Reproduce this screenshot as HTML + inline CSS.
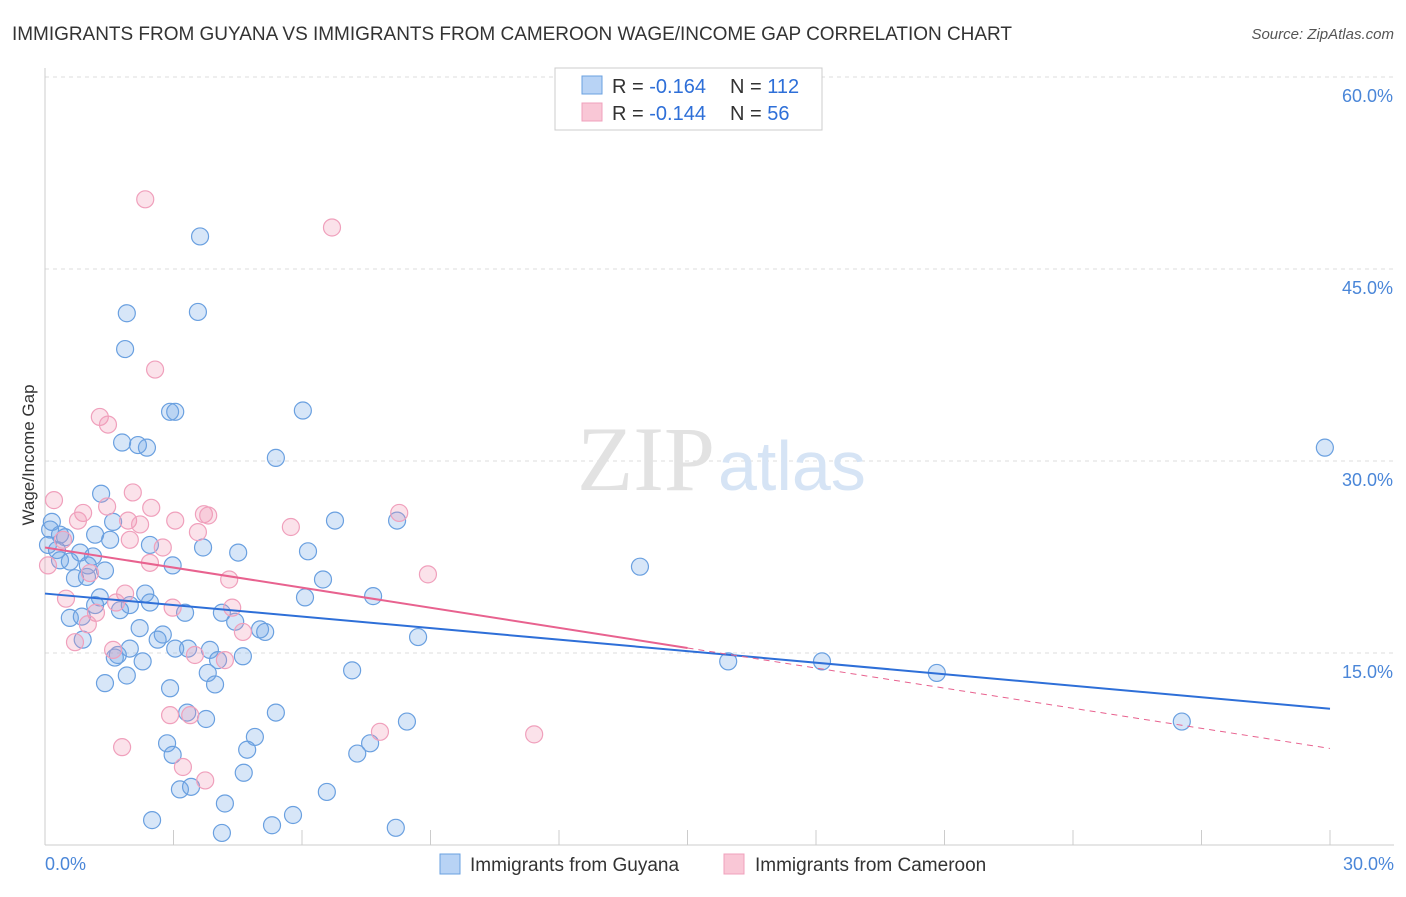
<!DOCTYPE html>
<html><head><meta charset="utf-8"><style>
body{margin:0;background:#fff;font-family:"Liberation Sans",sans-serif}
</style></head><body>
<svg width="1406" height="892" xmlns="http://www.w3.org/2000/svg" font-family="Liberation Sans, sans-serif">
<text x="12" y="40" font-size="19" fill="#333" textLength="1000">IMMIGRANTS FROM GUYANA VS IMMIGRANTS FROM CAMEROON WAGE/INCOME GAP CORRELATION CHART</text>
<text x="1394" y="39" font-size="15" fill="#555" font-style="italic" text-anchor="end">Source: ZipAtlas.com</text>
<g id="grid"></g>
<g id="axes"></g>
<text x="715" y="490" font-size="92" fill="#e2e2e2" text-anchor="end" font-family="Liberation Serif, serif">ZIP</text>
<text x="718" y="490" font-size="70" fill="#d6e4f5">atlas</text>
<text x="34" y="455" font-size="17" fill="#333" text-anchor="middle" transform="rotate(-90 34 455)">Wage/Income Gap</text>
<g id="pts"></g>
<g id="lines"></g>
<g>
<rect x="555" y="68" width="267" height="62" fill="#fff" stroke="#ccc"/>
<rect x="582" y="76" width="20" height="18" fill="#b8d3f5" stroke="#6aa0e0"/>
<rect x="582" y="103" width="20" height="18" fill="#f9c7d6" stroke="#f0a0bc"/>
<text x="612" y="93" font-size="20" fill="#333">R = <tspan fill="#2e6fd8">-0.164</tspan></text>
<text x="730" y="93" font-size="20" fill="#333">N = <tspan fill="#2e6fd8">112</tspan></text>
<text x="612" y="120" font-size="20" fill="#333">R = <tspan fill="#2e6fd8">-0.144</tspan></text>
<text x="730" y="120" font-size="20" fill="#333">N =  <tspan fill="#2e6fd8">56</tspan></text>
</g>
<g>
<rect x="440" y="854" width="20" height="20" fill="#b8d3f5" stroke="#6aa0e0"/>
<text x="470" y="871" font-size="19" fill="#333">Immigrants from Guyana</text>
<rect x="724" y="854" width="20" height="20" fill="#f9c7d6" stroke="#f0a0bc"/>
<text x="755" y="871" font-size="19" fill="#333">Immigrants from Cameroon</text>
</g>
</svg>
<script>
const yTicks=[15,30,45,60];
const yTickLabels=["15.0%","30.0%","45.0%","60.0%"];
const blueX=[3.62,1.91,3.57,1.87,2.92,3.04,6.02,1.80,2.17,2.38,5.39,29.88,1.31,1.59,6.77,8.22,0.16,0.12,0.35,1.17,1.52,0.47,2.45,3.69,4.51,6.14,0.28,0.82,1.12,0.07,0.35,0.58,1.00,1.40,2.98,13.89,0.70,0.98,6.49,2.34,1.28,7.66,6.07,1.17,1.98,2.45,1.75,3.27,4.13,0.58,0.86,4.44,2.21,5.02,5.14,8.71,2.75,2.63,0.88,3.04,1.98,3.34,3.85,1.70,1.63,4.62,4.04,2.28,15.95,18.14,7.17,3.80,20.82,1.91,1.40,3.97,2.92,3.32,3.76,5.39,8.45,26.54,4.90,2.85,7.59,4.72,7.29,2.98,4.64,3.15,3.41,6.58,4.20,2.50,5.79,5.30,8.19,4.13];
const blueY=[47.7,41.7,41.8,38.9,34.0,34.0,34.1,31.6,31.4,31.2,30.4,31.2,27.6,25.4,25.5,25.5,25.4,24.8,24.4,24.4,24.0,24.2,23.6,23.4,23.0,23.1,23.2,23.0,22.7,23.6,22.4,22.3,22.0,21.6,22.0,21.9,21.0,21.1,20.9,19.8,19.5,19.6,19.5,18.9,18.9,19.1,18.5,18.3,18.3,17.9,18.0,17.6,17.1,17.0,16.8,16.4,16.6,16.2,16.2,15.5,15.5,15.5,15.4,15.0,14.8,14.9,14.6,14.5,14.5,14.5,13.8,13.6,13.6,13.4,12.8,12.7,12.4,10.5,10.0,10.5,9.8,9.8,8.6,8.1,8.1,7.6,7.3,7.2,5.8,4.5,4.7,4.3,3.4,2.1,2.5,1.7,1.5,1.1];
const pinkX=[2.34,6.70,2.57,1.28,1.47,2.05,0.21,1.45,0.89,0.77,2.48,3.71,3.81,3.04,8.27,1.94,2.22,5.74,3.57,1.98,0.42,2.75,0.07,2.45,1.05,4.30,8.94,0.49,1.87,1.66,4.37,2.98,1.19,1.00,4.62,0.70,1.59,3.50,4.20,2.92,3.39,7.82,11.42,1.80,3.22,3.74];
const pinkY=[50.6,48.4,37.3,33.6,33.0,27.7,27.1,26.6,26.1,25.5,26.5,26.0,25.9,25.5,26.1,25.5,25.2,25.0,24.6,24.0,24.0,23.4,22.0,22.2,21.4,20.9,21.3,19.4,19.8,19.1,18.7,18.7,18.3,17.4,16.8,16.0,15.4,15.0,14.6,10.3,10.3,9.0,8.8,7.8,6.25,5.2];
const blueTrend=[19.8,10.8];
const pinkTrend=[23.4,7.7];
const pinkSolidEnd=15;
const NS="http://www.w3.org/2000/svg";
const X=v=>45+v/30*1285, Y=v=>847-v/15*192;
function mk(p,t,a){const e=document.createElementNS(NS,t);for(const k in a)e.setAttribute(k,a[k]);document.getElementById(p).appendChild(e);return e;}
yTicks.forEach((t,i)=>{
 const l=mk('grid','line',{x1:45,x2:1394,y1:Y(t)-2,y2:Y(t)-2,stroke:'#ddd','stroke-dasharray':'4,4'});
 
 
 const tx=mk('grid','text',{x:1393,y:Y(t)+23,'font-size':18,fill:'#4a86d8','text-anchor':'end'});
 tx.textContent=yTickLabels[i];
 
 
});
const ax=mk('axes','line',{x1:45,x2:1394,y1:845,y2:845,stroke:'#ccc'});


const ay=mk('axes','line',{x1:45,x2:45,y1:68,y2:845,stroke:'#ccc'});


for(let i=0;i<=10;i++){const t=mk('axes','line',{x1:X(i*3),x2:X(i*3),y1:845,y2:830,stroke:'#ccc'});
 
 }
[["0.0%",45,'start'],["30.0%",1394,'end']].forEach(d=>{const t=mk('axes','text',{x:d[1],y:870,'font-size':18,fill:'#4a86d8','text-anchor':d[2]});t.textContent=d[0];
 
 });
blueX.forEach((v,i)=>{const c=mk('pts','circle',{cx:X(v),cy:Y(blueY[i]),r:8.5,fill:'rgba(110,165,230,0.28)',stroke:'#6aa0e0','stroke-width':1.2});
 
 });
pinkX.forEach((v,i)=>{const c=mk('pts','circle',{cx:X(v),cy:Y(pinkY[i]),r:8.5,fill:'rgba(240,150,180,0.28)',stroke:'#f0a0bc','stroke-width':1.2});
 
 });
const bl=mk('lines','line',{x1:X(0),y1:Y(blueTrend[0]),x2:X(30),y2:Y(blueTrend[1]),stroke:'#2e6fd8','stroke-width':2});


const py=x=>pinkTrend[0]+(pinkTrend[1]-pinkTrend[0])*x/30;
const pl=mk('lines','line',{x1:X(0),y1:Y(py(0)),x2:X(pinkSolidEnd),y2:Y(py(pinkSolidEnd)),stroke:'#e8628f','stroke-width':2});


const pd=mk('lines','line',{x1:X(pinkSolidEnd),y1:Y(py(pinkSolidEnd)),x2:X(30),y2:Y(py(30)),stroke:'#e8628f','stroke-width':1,'stroke-dasharray':'6,5'});


</script>
</body></html>
